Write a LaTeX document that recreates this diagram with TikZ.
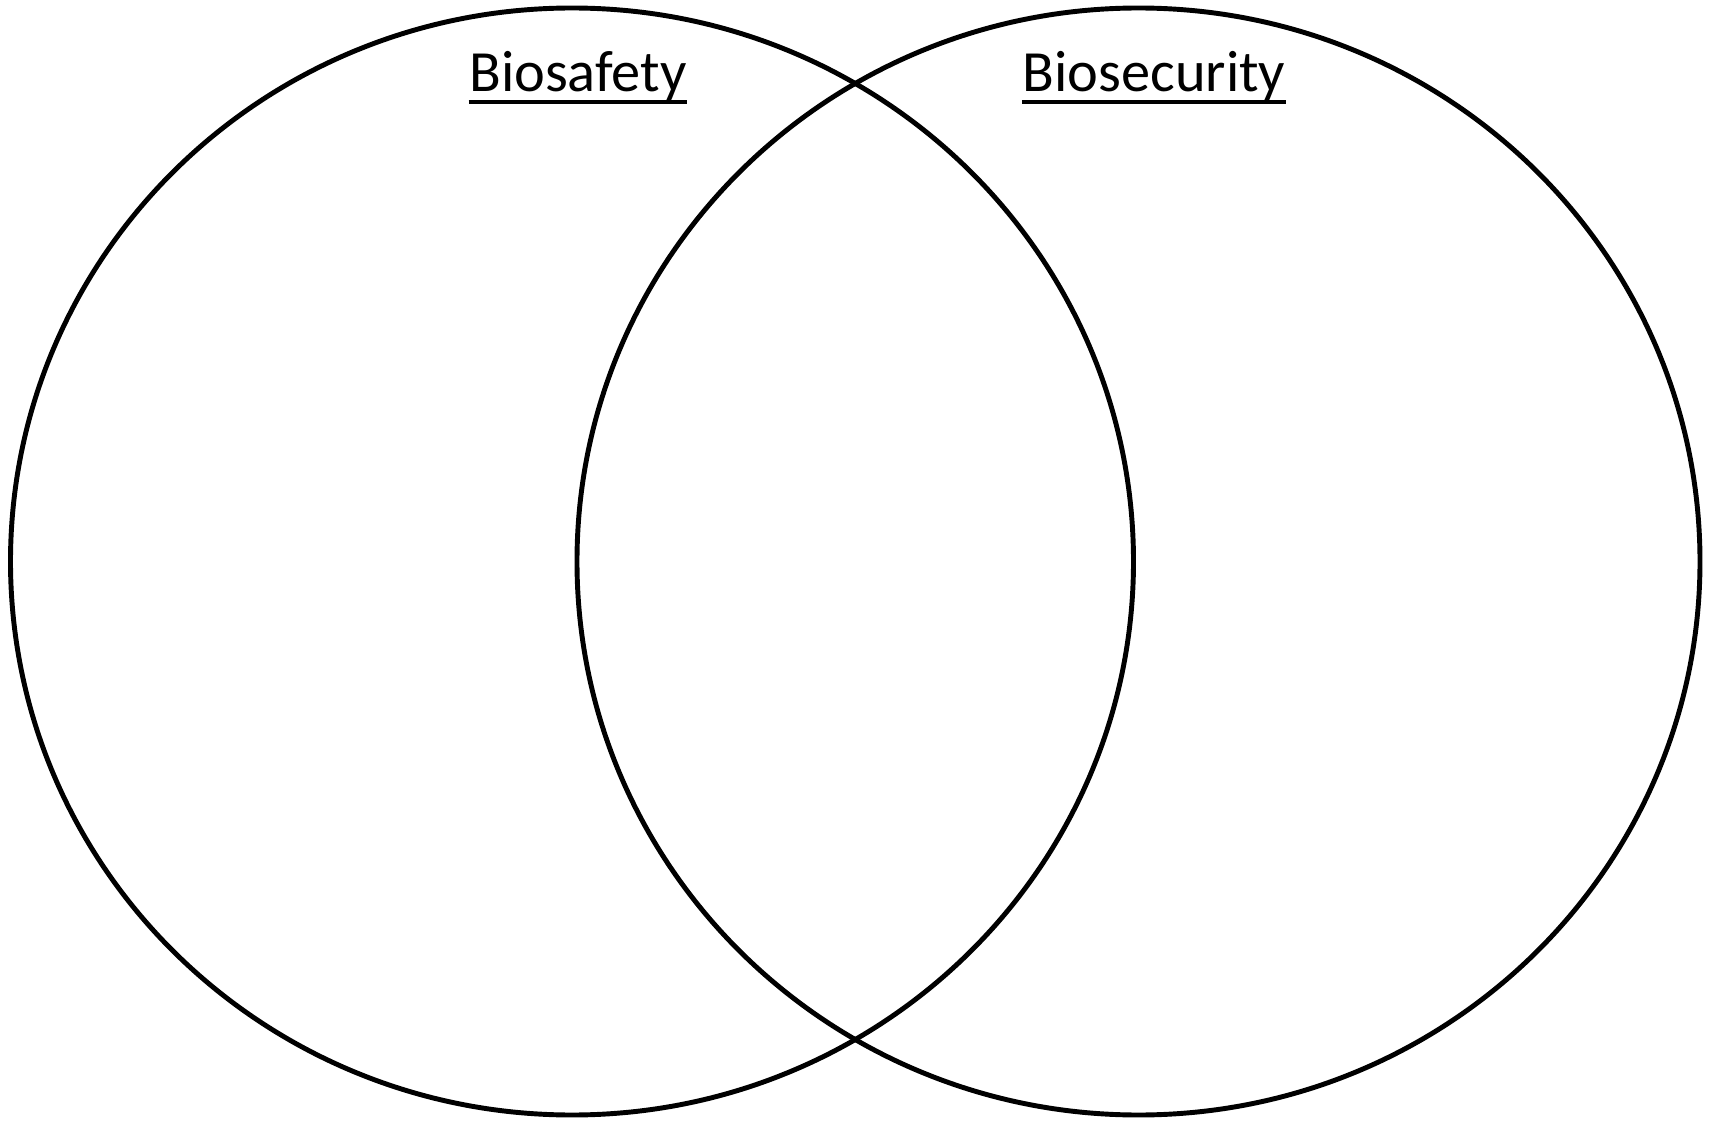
\documentclass[tikz,border=0pt]{standalone}
\usepackage{fontspec}
\setmainfont{Carlito}
\usetikzlibrary{positioning,calc}

\tikzset{
    setline/.style={line width=1.4pt},
    setlabel/.style={anchor=base, inner sep=0pt, font=\fontsize{16.6}{19}\selectfont},
    uline/.style={line width=1.1pt}
}

\begin{document}
\begin{tikzpicture}
    \useasboundingbox (0, 0) rectangle (17.11, 11.22);
    \draw [setline] (5.72, 5.605) ellipse [x radius=5.615, y radius=5.535]; % Biosafety set
    \draw [setline] (11.385, 5.605) ellipse [x radius=5.615, y radius=5.535]; % Biosecurity set
    \node [setlabel] (safety) at (5.78, 10.30) {Biosafety};
    \node [setlabel] (security) at (11.54, 10.30) {Biosecurity};
    \draw [uline] ([yshift=-0.1cm]safety.base west) -- ([yshift=-0.1cm]safety.base east);
    \draw [uline] ([yshift=-0.1cm]security.base west) -- ([yshift=-0.1cm]security.base east);
\end{tikzpicture}
\end{document}
